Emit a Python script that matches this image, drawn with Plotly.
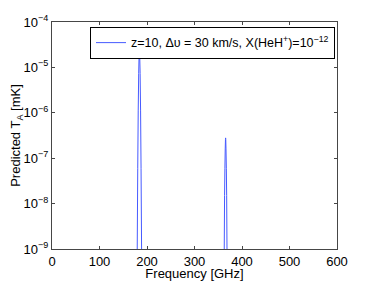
import plotly.graph_objects as go

# Line 1 (HeH+ J=1-0, redshifted)
freq_1 = [176.0, 179.4, 180.5, 181.5, 182.5, 183.3, 183.7, 184.0, 184.3, 184.7, 185.5, 186.5, 187.5, 188.6, 192.0]
ta_1 = [1e-12, 1e-9, 6e-8, 1.1e-6, 7.4e-6, 1.8e-5, 2.2e-5, 2.3e-5, 2.2e-5, 1.8e-5, 7.4e-6, 1.1e-6, 6e-8, 1e-9, 1e-12]

# Line 2 (HeH+ J=2-1, redshifted)
freq_2 = [192.0, 361.5, 362.6, 363.3, 364.0, 364.7, 365.2, 365.5, 365.8, 366.3, 367.0, 367.7, 368.4, 369.5, 600.0]
ta_2 = [1e-12, 1e-12, 1e-9, 1.5e-8, 6e-8, 1.6e-7, 2.6e-7, 2.8e-7, 2.6e-7, 1.6e-7, 6e-8, 1.5e-8, 1e-9, 1e-12, 1e-12]

freq = freq_1 + freq_2
ta = ta_1 + ta_2

x_ticks = [0, 100, 200, 300, 400, 500, 600]
y_ticks = [1e-9, 1e-8, 1e-7, 1e-6, 1e-5, 1e-4]
y_ticktext = ["10<sup>−9</sup>", "10<sup>−8</sup>", "10<sup>−7</sup>",
              "10<sup>−6</sup>", "10<sup>−5</sup>", "10<sup>−4</sup>"]

legend_name = "z=10, Δυ = 30 km/s, X(HeH<sup>+</sup>)=10<sup>−12</sup>"

fig = go.Figure()
fig.add_trace(go.Scatter(x=freq, y=ta, mode="lines", name=legend_name,
                         line=dict(color="rgb(70,90,255)", width=1, simplify=False)))

font = dict(family="Liberation Sans, Arial, Helvetica, sans-serif", size=13, color="black")
legend_font = dict(family="Liberation Sans, Arial, Helvetica, sans-serif", size=12.5, color="black")
axis_common = dict(showline=True, linecolor="rgb(70,70,70)", linewidth=1, mirror="ticks",
                   ticks="inside", ticklen=3, tickcolor="rgb(70,70,70)", showgrid=False,
                   zeroline=False, tickfont=font, automargin=False)

# page body has an 8px default margin, so the figure is sized/offset to compensate
fig.update_layout(
    width=366, height=273,
    margin=dict(l=44, r=37, t=14, b=32, autoexpand=False),
    paper_bgcolor="white", plot_bgcolor="white",
    font=font,
    showlegend=True,
    legend=dict(x=0.993, y=0.978, xanchor="right", yanchor="top",
                bgcolor="white", bordercolor="black", borderwidth=1,
                font=legend_font, tracegroupgap=0, itemwidth=30),
    xaxis=dict(range=[0, 600], tickvals=x_ticks,
               title=dict(text="Frequency [GHz]", font=font, standoff=2), **axis_common),
    yaxis=dict(type="log", range=[-9, -4], tickvals=y_ticks, ticktext=y_ticktext,
               title=dict(text="Predicted T<sub>A</sub> [mK]", font=font, standoff=3), **axis_common),
)

fig.write_html("out.html")
